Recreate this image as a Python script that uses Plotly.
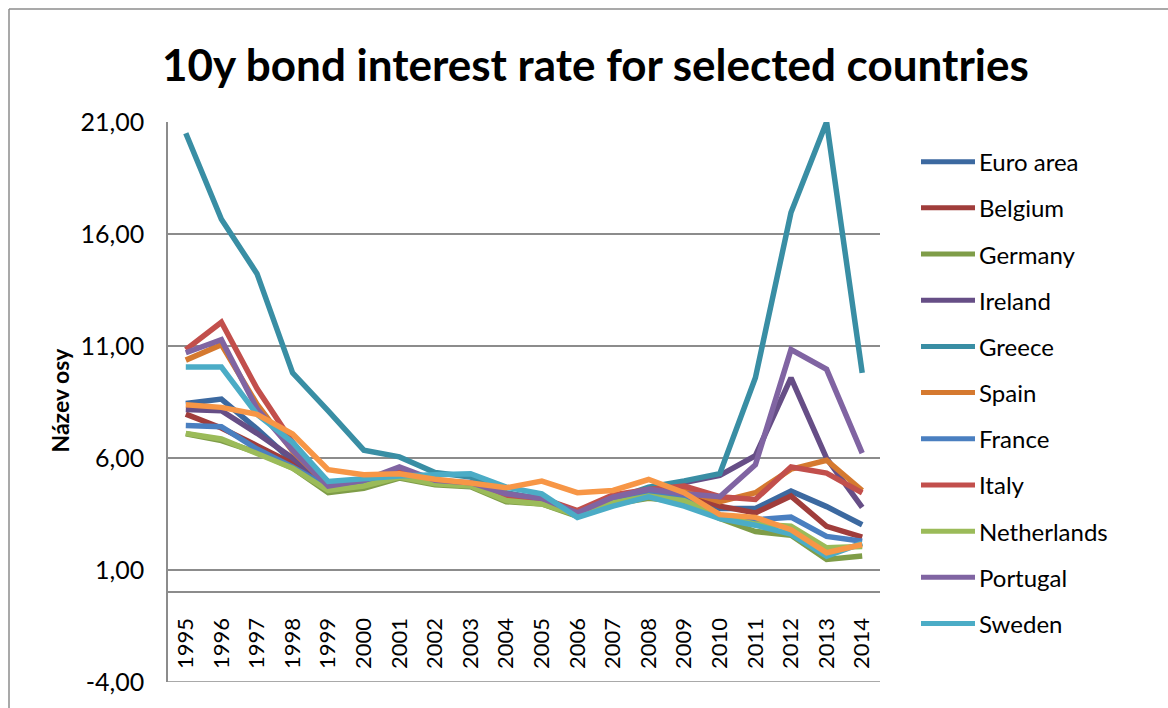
import plotly.graph_objects as go

# ---- data -------------------------------------------------------------
years = [str(y) for y in range(1995, 2015)]

euro_area = [8.43, 8.63, 7.30, 5.85, 4.70, 5.00, 5.25, 5.00, 4.75, 4.30, 4.15, 3.55, 4.20, 4.50, 4.45, 3.75, 3.75, 4.52, 3.83, 3.02]
belgium = [7.96, 7.34, 6.55, 5.75, 4.70, 5.00, 5.25, 4.95, 4.75, 4.30, 4.15, 3.62, 4.25, 4.55, 4.45, 3.85, 3.55, 4.30, 2.95, 2.47]
germany = [7.08, 6.78, 6.25, 5.55, 4.45, 4.65, 5.10, 4.80, 4.72, 4.05, 3.95, 3.40, 3.95, 4.20, 4.05, 3.30, 2.72, 2.55, 1.47, 1.62]
ireland = [8.17, 8.11, 7.10, 6.00, 4.75, 5.00, 5.50, 5.00, 4.85, 4.35, 4.20, 3.60, 4.30, 4.55, 4.90, 5.22, 6.10, 9.58, 5.98, 3.80]
greece = [20.50, 16.66, 14.23, 9.80, 8.10, 6.35, 6.05, 5.35, 5.15, 4.45, 4.15, 3.55, 4.15, 4.70, 4.98, 5.30, 9.58, 16.96, 21.00, 9.80]
spain = [10.37, 11.06, 8.40, 6.30, 4.75, 5.00, 5.30, 5.00, 4.80, 4.30, 4.15, 3.60, 4.25, 4.50, 4.55, 4.05, 4.45, 5.50, 5.90, 4.55]
france = [7.45, 7.40, 6.40, 5.60, 4.70, 4.95, 5.20, 4.90, 4.75, 4.25, 4.10, 3.50, 4.10, 4.40, 4.20, 3.45, 3.24, 3.36, 2.50, 2.28]
italy = [10.84, 12.06, 9.10, 6.70, 4.75, 5.05, 5.35, 5.00, 4.80, 4.30, 4.20, 3.65, 4.35, 4.60, 4.75, 4.27, 4.15, 5.60, 5.33, 4.44]
netherlands = [7.10, 6.85, 6.20, 5.55, 4.55, 4.75, 5.15, 4.85, 4.75, 4.10, 3.95, 3.45, 4.00, 4.30, 4.10, 3.40, 3.05, 2.95, 1.99, 2.05]
portugal = [10.70, 11.28, 8.20, 6.35, 4.75, 5.00, 5.60, 5.00, 4.90, 4.40, 4.20, 3.55, 4.25, 4.60, 4.40, 4.27, 5.70, 10.84, 9.96, 6.22]
sweden = [10.06, 10.06, 7.95, 6.70, 4.95, 5.10, 5.20, 5.25, 5.30, 4.70, 4.40, 3.35, 3.85, 4.27, 3.85, 3.30, 3.00, 2.60, 1.62, 2.20]
united_kingdom = [8.38, 8.26, 7.95, 7.07, 5.48, 5.25, 5.30, 5.05, 4.88, 4.67, 4.97, 4.45, 4.55, 5.04, 4.45, 3.47, 3.35, 2.80, 1.77, 2.14]

series_names = ["Euro area", "Belgium", "Germany", "Ireland", "Greece", "Spain",
                "France", "Italy", "Netherlands", "Portugal", "Sweden", "United Kingdom"]
series_values = [euro_area, belgium, germany, ireland, greece, spain,
                 france, italy, netherlands, portugal, sweden, united_kingdom]
legend_names = series_names[:11]   # the legend box only has room for eleven entries

y_ticks = [-4, 1, 6, 11, 16, 21]
y_tick_labels = ["-4,00", "1,00", "6,00", "11,00", "16,00", "21,00"]

# ---- styling ----------------------------------------------------------
colors = ["#3C69A0", "#A03D3B", "#7F9D48", "#664E86", "#398EA4", "#D5792F",
          "#4A7FC0", "#C24F4C", "#9BBB59", "#8064A2", "#4BACC6", "#F79646"]

FONT = "Lato, 'Open Sans', sans-serif"
W, H = 1168, 708
PL, PR, PT, PB = 168, 880, 122, 687   # plot-area pixel edges
Y0, Y1 = -4, 21
LINE_W = 5.5


def px_x(x):
    return (x - PL) / (PR - PL)


def px_y(y):
    return (PB - y) / (PB - PT)


fig = go.Figure()
for name, vals, col in zip(series_names, series_values, colors):
    fig.add_trace(go.Scatter(
        x=years, y=vals, mode="lines", name=name,
        line=dict(color=col, width=LINE_W), showlegend=False,
    ))

shapes = []
annotations = []

# custom legend: long line samples with labels
for i, (name, col) in enumerate(zip(legend_names, colors)):
    yc = px_y(162 + 46.6 * i)
    shapes.append(dict(type="line", xref="paper", yref="paper",
                       x0=px_x(921), x1=px_x(975), y0=yc, y1=yc,
                       line=dict(color=col, width=5)))
    annotations.append(dict(text=name, xref="paper", yref="paper",
                            x=px_x(977), y=yc, xanchor="left", yanchor="middle",
                            showarrow=False, font=dict(family=FONT, size=24, color="#000000")))

# bottom gridline of the value axis
shapes.append(dict(type="line", xref="paper", yref="y", x0=0, x1=1, y0=Y0, y1=Y0,
                   line=dict(color="#8C8C8C", width=1.5), layer="below"))

# chart frame (left and top edges)
shapes.append(dict(type="line", xref="paper", yref="paper",
                   x0=px_x(9), x1=px_x(9), y0=px_y(720), y1=px_y(8),
                   line=dict(color="#8C8C8C", width=1.5)))
shapes.append(dict(type="line", xref="paper", yref="paper",
                   x0=px_x(9), x1=px_x(1180), y0=px_y(8), y1=px_y(8),
                   line=dict(color="#8C8C8C", width=1.5)))

# title
annotations.append(dict(text="<b>10y bond interest rate for selected countries</b>",
                        xref="paper", yref="paper", x=px_x(595), y=px_y(63),
                        xanchor="center", yanchor="middle", showarrow=False,
                        font=dict(family=FONT, size=44, color="#000000")))
# value-axis title
annotations.append(dict(text="<b>Název osy</b>", xref="paper", yref="paper",
                        x=px_x(60), y=px_y(403), xanchor="center", yanchor="middle",
                        textangle=-90, showarrow=False,
                        font=dict(family=FONT, size=23, color="#000000")))

fig.update_layout(
    width=W, height=H,
    margin=dict(l=PL, r=W - PR, t=PT, b=H - PB, pad=0),
    paper_bgcolor="white", plot_bgcolor="white",
    showlegend=False,
    shapes=shapes, annotations=annotations,
    font=dict(family=FONT, size=22, color="#000000"),
)

fig.update_yaxes(
    range=[Y0, Y1], tickvals=y_ticks, ticktext=y_tick_labels,
    showgrid=True, gridcolor="#8C8C8C", gridwidth=1.5,
    zeroline=False, showline=True, linecolor="#8C8C8C", linewidth=1.5,
    ticks="", ticklabelstandoff=17,
    tickfont=dict(family=FONT, size=25, color="#000000"),
)

fig.update_xaxes(
    type="category", range=[-0.5, len(years) - 0.5],
    anchor="free", position=(0 - Y0) / (Y1 - Y0),
    showgrid=False, zeroline=False, showline=True,
    linecolor="#8C8C8C", linewidth=1.5,
    ticks="", tickangle=-90, ticklabelstandoff=16,
    tickfont=dict(family=FONT, size=22, color="#000000"),
)

fig.write_html("out.html")
